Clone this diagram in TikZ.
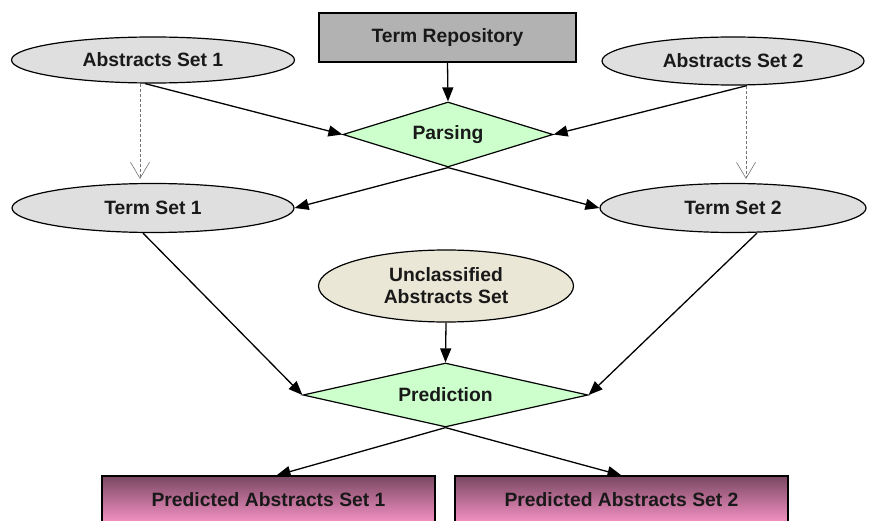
\documentclass[tikz,border=0pt]{standalone}
\usepackage{fontspec}
\setmainfont{Liberation Sans}
\usetikzlibrary{shapes.geometric,arrows.meta,calc}
\pgfdeclarelayer{bg}
\pgfsetlayers{bg,main}
\definecolor{repogray}{HTML}{B2B2B2}
\definecolor{setgray}{HTML}{DFDFDF}
\definecolor{beige}{HTML}{EBE7D7}
\definecolor{mint}{HTML}{CCFFCC}
\definecolor{mauve}{RGB}{122,72,98}
\definecolor{pink}{RGB}{248,148,200}
\tikzset{
  lbl/.style={font=\fontsize{19.3}{22}\selectfont\bfseries, text=black!90, align=center, inner sep=0pt},
  setnode/.style={lbl, ellipse, draw=black, line width=1.2pt, fill=setgray},
  stepdiamond/.style={lbl, diamond, draw=black, line width=1.2pt, fill=mint},
  repobox/.style={lbl, rectangle, draw=black, line width=1.2pt, fill=repogray},
  outbox/.style={lbl, rectangle, draw=black, line width=1.2pt, top color=mauve, bottom color=pink,
    minimum width=333pt, minimum height=48pt},
  flow/.style={line width=1.3pt, -{Triangle[length=14pt,width=11pt]}},
  hint/.style={draw=black!55, line width=0.6pt, dashed, dash pattern=on 3pt off 2pt,
    -{Straight Barb[length=16pt,width=19pt,line width=0.6pt]}},
}
\begin{document}
\begin{tikzpicture}[x=1pt,y=-1pt]
\useasboundingbox (0,0) rectangle (874,521);

% inputs and term repository
\node[repobox, minimum width=257pt, minimum height=49pt] (repo) at (447.5,37.5) {Term Repository};
\node[setnode, minimum width=283pt, minimum height=46pt] (abs1) at (153,60) {Abstracts Set 1};
\node[setnode, minimum width=262pt, minimum height=48pt] (abs2) at (733,61) {Abstracts Set 2};

% parsing step and resulting term sets
\node[stepdiamond, aspect=3.23, minimum width=210pt, minimum height=65pt] (parse) at (448,134.5) {Parsing};
\node[setnode, minimum width=282pt, minimum height=49pt] (ts1) at (153,208) {Term Set 1};
\node[setnode, minimum width=266pt, minimum height=49pt] (ts2) at (733,208) {Term Set 2};

% prediction step
\node[setnode, fill=beige, minimum width=255pt, minimum height=72pt] (unc) at (446,286) {Unclassified\\Abstracts Set};
\node[stepdiamond, aspect=4.45, minimum width=285pt, minimum height=64pt] (pred) at (445.5,395) {Prediction};

% outputs
\node[outbox] (out1) at (268.5,500) {Predicted Abstracts Set 1};
\node[outbox] (out2) at (621.5,500) {Predicted Abstracts Set 2};

\begin{pgfonlayer}{bg}
  \draw[flow] (repo.south) -- (parse.north);
  \draw[flow] ($(abs1.south)+(-8,0)$) -- (parse.west);
  \draw[flow] ($(abs2.south)+(14,0)$) -- (parse.east);
  \draw[flow] (parse.south) -- (ts1.east);
  \draw[flow] (parse.south) -- (ts2.west);
  \draw[hint] ($(abs1.south)+(-13,0)$) -- ($(ts1.north)+(-13,-4)$);
  \draw[hint] ($(abs2.south)+(13,0)$) -- ($(ts2.north)+(13,-4)$);
  \draw[flow] ($(ts1.south)+(-10,0)$) -- (pred.west);
  \draw[flow] ($(ts2.south)+(24,0)$) -- (pred.east);
  \draw[flow] (unc.south) -- (pred.north);
  \draw[flow] (pred.south) -- ($(out1.north)+(8,0)$);
  \draw[flow] (pred.south) -- (out2.north);
\end{pgfonlayer}
\end{tikzpicture}
\end{document}
